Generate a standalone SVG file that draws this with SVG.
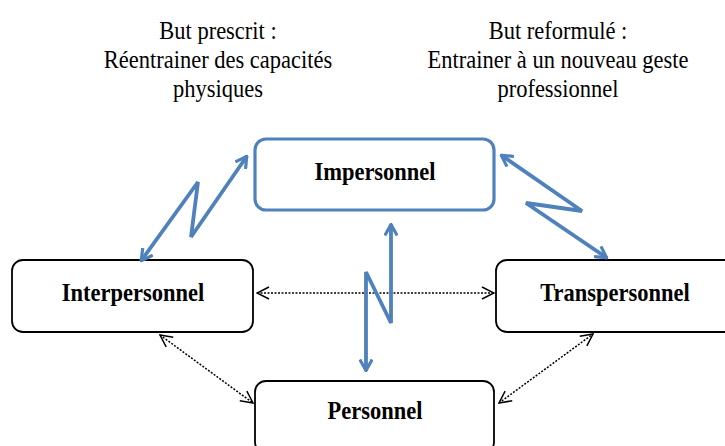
<svg xmlns="http://www.w3.org/2000/svg" width="725" height="446" viewBox="0 0 725 446">
<defs>
<style>
.cap{font-family:"Liberation Serif","Times New Roman",serif;font-size:22.5px;fill:#000;text-anchor:middle}
.lbl{font-family:"Liberation Serif","Times New Roman",serif;font-size:22.5px;font-weight:bold;fill:#000;text-anchor:middle}
.box{fill:#fff;stroke:#000;stroke-width:1.8}
.bbox{fill:#fff;stroke:#4f81bd;stroke-width:3.2}
.blue{fill:none;stroke:#4f81bd;stroke-width:3.8;stroke-linejoin:miter}
.dot{fill:none;stroke:#000;stroke-width:1.5;stroke-dasharray:2 1.5}
</style>
<marker id="ba" viewBox="0 0 14 14" refX="13" refY="7" markerWidth="14" markerHeight="14" markerUnits="userSpaceOnUse" orient="auto-start-reverse">
<path d="M1.5,0.8 L12.5,7 L1.5,13.2" fill="none" stroke="#4f81bd" stroke-width="3.2"/>
</marker>
<marker id="ka" viewBox="0 0 14 14" refX="13" refY="7" markerWidth="14" markerHeight="14" markerUnits="userSpaceOnUse" orient="auto-start-reverse">
<path d="M1,1 L13,7 L1,13" fill="none" stroke="#000" stroke-width="1.5"/>
</marker>
</defs>
<rect width="725" height="446" fill="#fff"/>
<g id="captions">
<text class="cap" transform="translate(218,39) scale(1,1.14)">But prescrit :</text>
<text class="cap" transform="translate(218,68) scale(1,1.14)">Réentrainer des capacités</text>
<text class="cap" transform="translate(218,97) scale(1,1.14)">physiques</text>
<text class="cap" transform="translate(558,39) scale(1,1.14)">But reformulé :</text>
<text class="cap" transform="translate(558,68) scale(1,1.14)">Entrainer à un nouveau geste</text>
<text class="cap" transform="translate(558,97) scale(1,1.14)">professionnel</text>
</g>
<g id="node-impersonnel">
<rect class="bbox" x="255" y="139" width="239" height="71" rx="11"/>
<text class="lbl" transform="translate(375,179.5) scale(1,1.12)">Impersonnel</text>
</g>
<g id="node-interpersonnel">
<rect class="box" x="12" y="260" width="241" height="72" rx="11"/>
<text class="lbl" transform="translate(133,301) scale(1,1.12)">Interpersonnel</text>
</g>
<g id="node-transpersonnel">
<rect class="box" x="496" y="260" width="240" height="72" rx="11"/>
<text class="lbl" transform="translate(615,301) scale(1,1.12)">Transpersonnel</text>
</g>
<g id="node-personnel">
<rect class="box" x="255" y="381" width="239" height="72" rx="11"/>
<text class="lbl" transform="translate(375,419) scale(1,1.12)">Personnel</text>
</g>
<g id="connectors">
<path class="dot" d="M257,293 L494,293" marker-start="url(#ka)" marker-end="url(#ka)"/>
<path class="dot" d="M160,335 L253,403" marker-start="url(#ka)" marker-end="url(#ka)"/>
<path class="dot" d="M499,403 L593,334" marker-start="url(#ka)" marker-end="url(#ka)"/>
<path class="blue" d="M141,261 L198,182 L191,237 L247,156" marker-start="url(#ba)" marker-end="url(#ba)"/>
<path class="blue" d="M501,155 L582,211 L526,203 L607,258" marker-start="url(#ba)" marker-end="url(#ba)"/>
<path class="blue" d="M391,224 L391,323 L366,272 L366,371" marker-start="url(#ba)" marker-end="url(#ba)"/>
</g>
</svg>
